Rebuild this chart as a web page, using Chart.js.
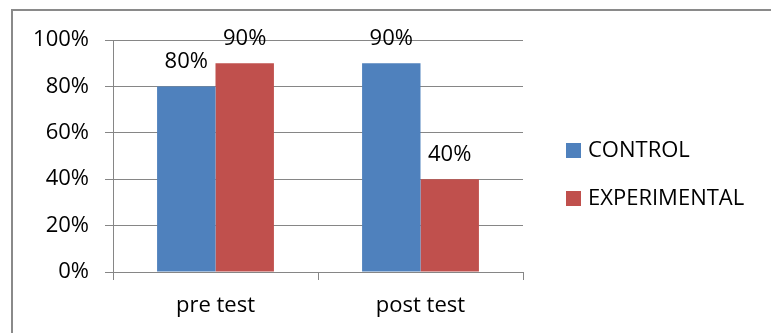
<!DOCTYPE html>
<html>
<head>
<meta charset="utf-8">
<script src="https://cdn.jsdelivr.net/npm/chart.js@4"></script>
<style>
  html, body { margin: 0; padding: 0; background: #fff; }
  #wrap { position: relative; width: 771px; height: 333px; overflow: hidden; }
  #frame { position: absolute; left: 11px; top: 9px; width: 800px; height: 400px;
           border-left: 2px solid #8a8a8a; border-top: 2px solid #8a8a8a; box-sizing: border-box; }
  canvas { position: absolute; left: 0; top: 0; }
</style>
</head>
<body>
<div id="wrap">
  <div id="frame"></div>
  <canvas id="c" width="771" height="333"></canvas>
</div>
<script>
const categories = ['pre test', 'post test'];
const controlValues = [80, 90];
const experimentalValues = [90, 40];
const seriesNames = ['CONTROL', 'EXPERIMENTAL'];
const yTicks = [0, 20, 40, 60, 80, 100];

const FONT = '"Open Sans", Lato, sans-serif';
const GRID = '#868686';

// value labels above each bar
const barLabels = {
  id: 'barLabels',
  afterDatasetsDraw(chart) {
    const ctx = chart.ctx;
    ctx.save();
    ctx.font = '22px ' + FONT;
    ctx.fillStyle = '#000';
    ctx.textAlign = 'center';
    ctx.textBaseline = 'alphabetic';
    chart.data.datasets.forEach((ds, i) => {
      chart.getDatasetMeta(i).data.forEach((bar, j) => {
        ctx.fillText(ds.data[j] + '%', bar.x, bar.y - 18);
      });
    });
    ctx.restore();
  }
};

// legend on the right, square swatches
const sideLegend = {
  id: 'sideLegend',
  afterDraw(chart) {
    const ctx = chart.ctx;
    ctx.save();
    ctx.font = '22px ' + FONT;
    ctx.textBaseline = 'middle';
    ctx.textAlign = 'left';
    chart.data.datasets.forEach((ds, i) => {
      const cy = 150 + i * 48;
      ctx.fillStyle = ds.backgroundColor;
      ctx.fillRect(566, cy - 7, 15, 15);
      ctx.fillStyle = '#000';
      ctx.fillText(ds.label, 588, cy + 1);
    });
    ctx.restore();
  }
};

new Chart(document.getElementById('c'), {
  type: 'bar',
  data: {
    labels: categories,
    datasets: [
      { label: seriesNames[0], data: controlValues, backgroundColor: '#4F81BD' },
      { label: seriesNames[1], data: experimentalValues, backgroundColor: '#C0504D' }
    ]
  },
  options: {
    responsive: false,
    animation: false,
    layout: { padding: { left: 0, top: 40, right: 248, bottom: 0 } },
    datasets: { bar: { categoryPercentage: 0.57, barPercentage: 1, borderWidth: 0 } },
    plugins: { legend: { display: false }, tooltip: { enabled: false } },
    scales: {
      x: {
        afterFit(s) { s.height = 61; },
        grid: { drawOnChartArea: false, drawTicks: true, tickLength: 8, color: GRID },
        border: { display: true, color: GRID },
        ticks: { color: '#000', font: { family: FONT, size: 22 }, padding: 13 }
      },
      y: {
        min: 0, max: 100,
        afterFit(s) { s.width = 113; },
        afterBuildTicks(s) { s.ticks = yTicks.map(v => ({ value: v })); },
        grid: { color: GRID, tickLength: 8 },
        border: { display: true, color: GRID },
        ticks: { color: '#000', font: { family: FONT, size: 22 }, padding: 16,
                 callback: v => v + '%' }
      }
    }
  },
  plugins: [barLabels, sideLegend]
});
</script>
</body>
</html>
